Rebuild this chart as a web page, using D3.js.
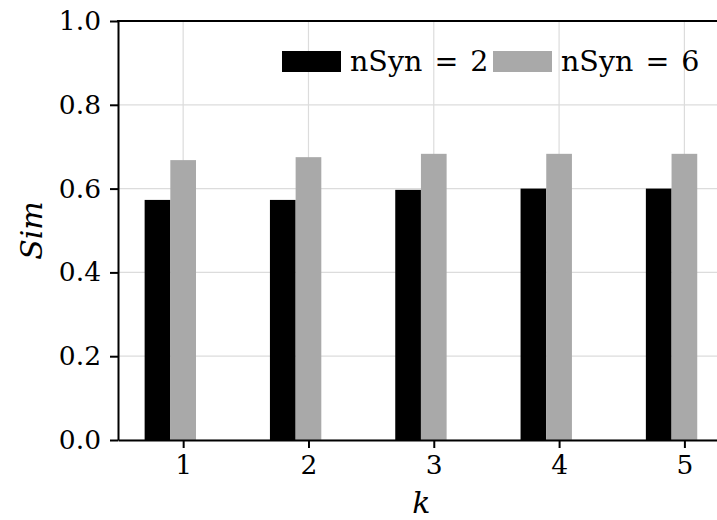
<!DOCTYPE html>
<html>
<head>
<meta charset="utf-8">
<script src="https://cdn.jsdelivr.net/npm/d3@7"></script>
<style>
  body { margin: 0; background: #fff; }
  svg { display: block; font-family: "DejaVu Serif", serif; }
</style>
</head>
<body>
<div id="chart"></div>
<script>
// values
const ks = [1, 2, 3, 4, 5];
const nSyn2 = [0.573, 0.573, 0.597, 0.600, 0.600];
const nSyn6 = [0.668, 0.675, 0.683, 0.683, 0.683];
const seriesNames = ['nSyn = 2', 'nSyn = 6'];
const seriesColors = ['#000000', '#a9a9a9'];
const yTicks = [0, 0.2, 0.4, 0.6, 0.8, 1.0];

const totalWidth = 717;
const totalHeight = 520;
const margin = { top: 21, left: 118, bottom: 80 };
const barW = 0.205;

const x = d3.scaleLinear().domain([0.48, 5.32]).range([margin.left, margin.left + 606.5]);
const y = d3.scaleLinear().domain([0, 1]).range([totalHeight - margin.bottom, margin.top]);

const svg = d3.select('#chart').append('svg')
  .attr('width', totalWidth)
  .attr('height', totalHeight);

// grid
svg.append('g')
  .selectAll('line.h')
  .data(yTicks)
  .join('line')
    .attr('x1', x.range()[0]).attr('x2', x.range()[1])
    .attr('y1', d => y(d)).attr('y2', d => y(d))
    .attr('stroke', '#dcdcdc').attr('stroke-width', 1.2);

svg.append('g')
  .selectAll('line.v')
  .data(ks)
  .join('line')
    .attr('x1', d => x(d)).attr('x2', d => x(d))
    .attr('y1', y(0)).attr('y2', y(1))
    .attr('stroke', '#dcdcdc').attr('stroke-width', 1.2);

// bars: black centered at k - w, gray centered at k
const series = [nSyn2, nSyn6];
series.forEach((vals, si) => {
  const off = si === 0 ? -barW : 0;
  svg.append('g')
    .selectAll('rect')
    .data(ks.map((k, i) => ({ k, v: vals[i] })))
    .join('rect')
      .attr('x', d => x(d.k + off - barW / 2))
      .attr('width', d => x(d.k + off + barW / 2) - x(d.k + off - barW / 2))
      .attr('y', d => y(d.v))
      .attr('height', d => y(0) - y(d.v))
      .attr('fill', seriesColors[si]);
});

// axes
const xAxis = svg.append('g')
  .attr('transform', `translate(0, ${y(0)})`)
  .call(d3.axisBottom(x).tickValues(ks).tickFormat(d3.format('d')).tickSize(8).tickPadding(7).tickSizeOuter(0));

const yAxis = svg.append('g')
  .attr('transform', `translate(${margin.left}, 0)`)
  .call(d3.axisLeft(y).tickValues(yTicks).tickFormat(d3.format('.1f')).tickSize(8).tickPadding(9).tickSizeOuter(0));

[xAxis, yAxis].forEach(a => {
  a.attr('font-family', '"DejaVu Serif", serif').attr('font-size', 26.5);
  a.select('.domain').attr('stroke', '#000').attr('stroke-width', 2);
  a.selectAll('.tick line').attr('stroke', '#000').attr('stroke-width', 2);
  a.selectAll('.tick text').attr('fill', '#000');
});

// top spine
svg.append('line')
  .attr('x1', x.range()[0] - 1).attr('x2', x.range()[1])
  .attr('y1', y(1)).attr('y2', y(1))
  .attr('stroke', '#000').attr('stroke-width', 2);

// axis labels
svg.append('text')
  .attr('x', (x.range()[0] + x.range()[1]) / 2)
  .attr('y', 513)
  .attr('text-anchor', 'middle')
  .attr('font-size', 30)
  .attr('font-style', 'italic')
  .text('k');

svg.append('text')
  .attr('transform', `translate(42, ${(y(0) + y(1)) / 2}) rotate(-90)`)
  .attr('text-anchor', 'middle')
  .attr('font-size', 30)
  .attr('font-style', 'italic')
  .text('Sim');

// legend
const legend = svg.append('g');
const legendX = [282, 493];
seriesNames.forEach((name, i) => {
  legend.append('rect')
    .attr('x', legendX[i]).attr('y', 51)
    .attr('width', 59).attr('height', 21)
    .attr('fill', seriesColors[i]);
  legend.append('text')
    .attr('x', legendX[i] + 68).attr('y', 71)
    .attr('font-size', 28.5)
    .attr('word-spacing', 3)
    .text(name);
});
</script>
</body>
</html>
